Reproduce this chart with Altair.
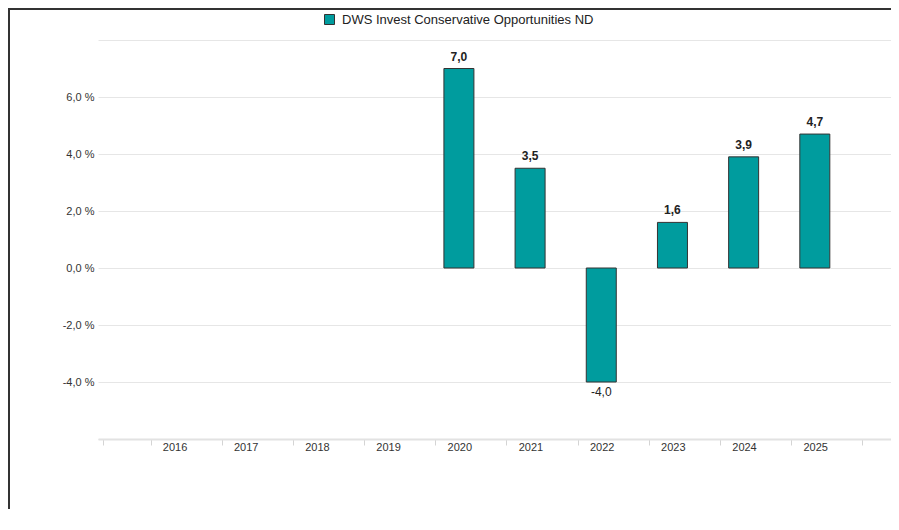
import altair as alt
import pandas as pd

years = [2016, 2017, 2018, 2019, 2020, 2021, 2022, 2023, 2024, 2025]
returns = [None, None, None, None, 7.0, 3.5, -4.0, 1.6, 3.9, 4.7]
series_name = "DWS Invest Conservative Opportunities ND"
y_ticks = [-6, -4, -2, 0, 2, 4, 6, 8]

rows = []
for yr, v in zip(years, returns):
    if v is None:
        continue
    rows.append({"year": yr, "value": v, "series": series_name,
                 "label": f"{v:.1f}".replace(".", ",")})
df = pd.DataFrame(rows)

# x-axis tick positions: ticks on both sides of each year label
off = 0.332
x_values = [2015, 2015 + off]
for yr in years:
    x_values += [yr - off, yr + off]
x_values += [2026 - off, 2026]

FONT = "Liberation Sans"
TEAL = "#009c9e"

x_enc = alt.X(
    "year:Q",
    scale=alt.Scale(domain=[2015, 2026], nice=False, zero=False),
    axis=alt.Axis(
        values=x_values,
        title=None,
        grid=False,
        labelExpr="(datum.value % 1 > 0.5 && datum.value < 2025.5) ? toString(ceil(datum.value)) : ''",
        labelOffset=24,
        labelOverlap=False,
        labelFlush=False,
        labelPadding=-4,
        labelFontSize=11,
        labelColor="#333333",
        labelFont=FONT,
        domainColor="#e2e2e2",
        domainWidth=2,
        tickColor="#d4d4d4",
        tickSize=6,
        tickWidth=1,
    ),
)

y_enc = alt.Y(
    "value:Q",
    scale=alt.Scale(domain=[-6, 8], nice=False),
    axis=alt.Axis(
        values=y_ticks,
        title=None,
        grid=True,
        gridColor="#e6e6e6",
        gridWidth=1,
        domain=False,
        ticks=False,
        labelPadding=4,
        labelFontSize=11,
        labelColor="#333333",
        labelFont=FONT,
        labelExpr="(datum.value < -5 || datum.value > 7) ? '' : replace(replace(format(datum.value, '.1f'), '.', ','), '\u2212', '-') + ' %'",
    ),
)

base = alt.Chart(df)

bars = base.mark_bar(size=30, stroke="#333333", strokeWidth=1).encode(
    x=x_enc,
    y=y_enc,
    y2=alt.datum(0),
    color=alt.Color(
        "series:N",
        scale=alt.Scale(domain=[series_name], range=[TEAL]),
        legend=alt.Legend(
            title=None,
            orient="none",
            legendX=225,
            legendY=-27,
            symbolType="square",
            symbolSize=100,
            symbolStrokeColor="#333333",
            symbolStrokeWidth=1,
            symbolOpacity=1,
            labelFont=FONT,
            labelFontSize=13,
            labelColor="#222222",
            labelOffset=6,
            labelLimit=0,
            padding=0,
        ),
    ),
)

pos_text = base.transform_filter("datum.value >= 0").mark_text(
    baseline="bottom", dy=-5, fontSize=12, fontWeight="bold", font=FONT, color="#222222"
).encode(x="year:Q", y="value:Q", text="label:N")

neg_text = base.transform_filter("datum.value < 0").mark_text(
    baseline="top", dy=5, fontSize=12, font=FONT, color="#222222"
).encode(x="year:Q", y="value:Q", text="label:N")

frame_data = alt.Data(values=[{"k": 1}])
frame_left = alt.Chart(frame_data).mark_rule(color="#333333", strokeWidth=2).encode(
    x=alt.value(-89), y=alt.value(-31), y2=alt.value(520)
)
frame_top = alt.Chart(frame_data).mark_rule(color="#333333", strokeWidth=2).encode(
    x=alt.value(-90), x2=alt.value(800), y=alt.value(-31)
)

chart = alt.layer(bars, pos_text, neg_text, frame_left, frame_top).properties(
    width=793,
    height=399,
    autosize=alt.AutoSizeParams(type="none"),
    padding={"left": 90, "top": 32, "right": 0, "bottom": 70},
).configure(font=FONT).configure_view(stroke=None)

chart.save("out.html", embed_options={"renderer": "svg", "actions": False})
